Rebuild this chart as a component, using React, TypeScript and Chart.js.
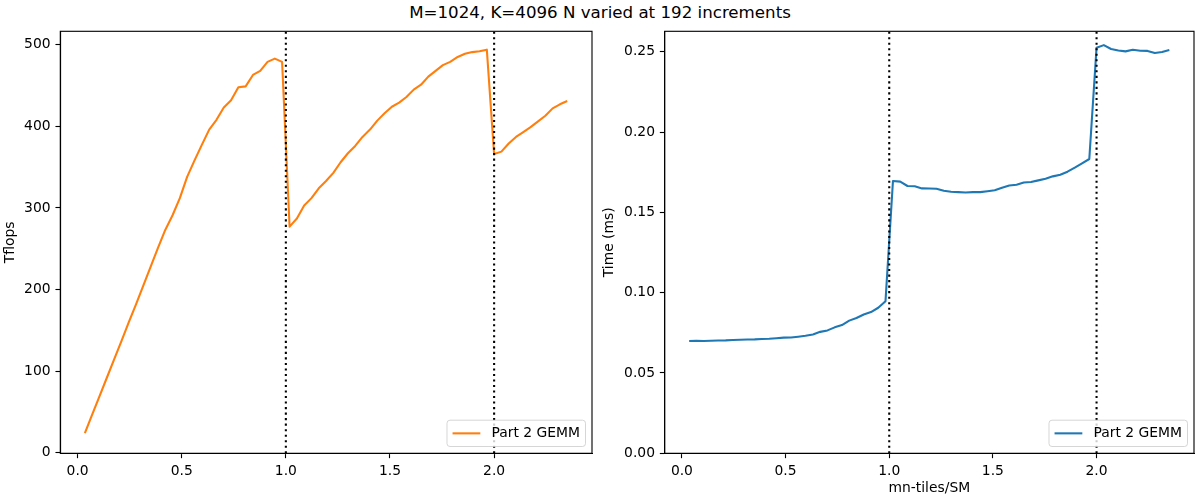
import React, { useEffect, useRef } from "react";
import { Chart, registerables } from "chart.js";

Chart.register(...registerables);

// mn-tiles per SM for each N step (N grows by 192)
const tilesPerSM = [
  0.035, 0.07, 0.105, 0.14, 0.175, 0.211, 0.246, 0.281, 0.316, 0.351,
  0.386, 0.421, 0.456, 0.491, 0.526, 0.561, 0.596, 0.632, 0.667, 0.702,
  0.737, 0.772, 0.807, 0.842, 0.877, 0.912, 0.947, 0.982, 1.018, 1.053,
  1.088, 1.123, 1.158, 1.193, 1.228, 1.263, 1.298, 1.333, 1.368, 1.404,
  1.439, 1.474, 1.509, 1.544, 1.579, 1.614, 1.649, 1.684, 1.719, 1.754,
  1.789, 1.825, 1.86, 1.895, 1.93, 1.965, 2.0, 2.035, 2.07, 2.105,
  2.14, 2.175, 2.211, 2.246, 2.281, 2.316, 2.351,
];

const tflops = [
  23.8, 46.5, 69, 91.5, 114, 137, 160, 182, 205, 228,
  251, 273, 291, 312, 338, 358, 377, 396, 408, 423,
  432, 448, 449, 463, 468, 479, 483, 479, 277, 287,
  303, 312, 324, 333, 343, 356, 367, 376, 387, 396,
  407, 416, 424, 429, 436, 445, 451, 461, 468, 475,
  479, 485, 489, 491, 492, 494, 366, 369, 379, 387,
  393, 399, 406, 413, 422, 427, 431,
];

const timeMs = [
  0.0699, 0.07, 0.0699, 0.0701, 0.0702, 0.0703, 0.0705, 0.0707, 0.0708, 0.0709,
  0.0712, 0.0713, 0.0716, 0.072, 0.0721, 0.0726, 0.0732, 0.074, 0.0756, 0.0765,
  0.0784, 0.0798, 0.0826, 0.0842, 0.0864, 0.0879, 0.0906, 0.0947, 0.1695, 0.1691,
  0.1664, 0.1662, 0.1649, 0.1648, 0.1647, 0.1635, 0.1628, 0.1626, 0.1624, 0.1626,
  0.1626, 0.1631, 0.1637, 0.1653, 0.1667, 0.1672, 0.1686, 0.1689, 0.1699, 0.1709,
  0.1724, 0.1734, 0.1753, 0.1778, 0.1805, 0.1832, 0.2525, 0.2541, 0.2517, 0.2508,
  0.2502, 0.2512, 0.2506, 0.2505, 0.2492, 0.2498, 0.251,
];

const xTicks = [0, 0.5, 1.0, 1.5, 2.0];
const tflopsTicks = [0, 100, 200, 300, 400, 500];
const timeTicks = [0, 0.05, 0.1, 0.15, 0.2, 0.25];
const waveLines = [1, 2];

const FONT = "DejaVu Sans";
const PT = 100 / 72; // matplotlib points -> px at 100 dpi
const FS = 10 * PT;

// spines, dotted wave markers and a matplotlib-like legend box
const axesDecor = {
  id: "axesDecor",
  afterDatasetsDraw(chart: any) {
    const { ctx, chartArea: a, scales } = chart;
    ctx.save();
    ctx.strokeStyle = "#000";
    ctx.lineWidth = 1.5 * PT;
    ctx.lineCap = "butt";
    ctx.setLineDash([1.5 * PT, 2.475 * PT]);
    waveLines.forEach((v) => {
      const x = scales.x.getPixelForValue(v);
      ctx.beginPath();
      ctx.moveTo(x, a.bottom);
      ctx.lineTo(x, a.top);
      ctx.stroke();
    });
    ctx.setLineDash([]);
    ctx.lineWidth = 0.8 * PT;
    ctx.strokeRect(a.left, a.top, a.right - a.left, a.bottom - a.top);

    // legend, lower right
    const ds = chart.data.datasets[0];
    ctx.font = `${FS}px "${FONT}"`;
    const tw = ctx.measureText(ds.label).width;
    const pad = 0.4 * FS;
    const w = pad + 2 * FS + 0.8 * FS + tw + pad;
    const h = 26.3;
    const right = a.right - 6.5;
    const bottom = a.bottom - 6.8;
    const left = right - w;
    const top = bottom - h;
    ctx.beginPath();
    ctx.roundRect(left, top, w, h, 3);
    ctx.fillStyle = "rgba(255,255,255,0.8)";
    ctx.fill();
    ctx.strokeStyle = "rgba(204,204,204,0.8)";
    ctx.lineWidth = 1;
    ctx.stroke();
    const cy = top + h / 2;
    ctx.beginPath();
    ctx.strokeStyle = ds.borderColor;
    ctx.lineWidth = 1.5 * PT;
    ctx.moveTo(left + pad, cy);
    ctx.lineTo(left + pad + 2 * FS, cy);
    ctx.stroke();
    ctx.fillStyle = "#000";
    ctx.textBaseline = "middle";
    ctx.textAlign = "left";
    ctx.fillText(ds.label, left + pad + 2.8 * FS, cy + 0.5);
    ctx.restore();
  },
};

const tickFont = { family: FONT, size: FS };

function makeChart(
  canvas: HTMLCanvasElement,
  values: number[],
  color: string,
  yTicks: number[],
  yMin: number,
  yMax: number,
  yDigits: number,
  yTitle: string,
  yTitlePad: number,
  xTitle: string,
  yWidth: number,
  padRight: number
) {
  return new Chart(canvas, {
    type: "line",
    data: {
      datasets: [
        {
          label: "Part 2 GEMM",
          data: tilesPerSM.map((x, i) => ({ x, y: values[i] })),
          borderColor: color,
          backgroundColor: color,
          borderWidth: 1.5 * PT,
          borderJoinStyle: "round",
          pointRadius: 0,
          tension: 0,
          fill: false,
        },
      ],
    },
    options: {
      responsive: false,
      animation: false,
      layout: { padding: { top: 31.3, right: padRight, left: 0, bottom: 0 } },
      plugins: { legend: { display: false }, tooltip: { enabled: false } },
      scales: {
        x: {
          type: "linear",
          min: -0.083,
          max: 2.47,
          afterBuildTicks: (s: any) => {
            s.ticks = xTicks.map((value) => ({ value }));
          },
          afterFit: (s: any) => {
            s.height = 46.7;
          },
          ticks: {
            callback: (v: any) => Number(v).toFixed(1),
            color: "#000",
            font: tickFont,
            padding: 3.5 * PT,
            maxRotation: 0,
            autoSkip: false,
          },
          grid: {
            drawOnChartArea: false,
            drawTicks: true,
            tickLength: 3.5 * PT,
            tickColor: "#000",
            tickWidth: 0.8 * PT,
          },
          border: { display: true, color: "#000", width: 0.8 * PT },
          title: {
            display: xTitle !== "",
            text: xTitle,
            color: "#000",
            font: tickFont,
            padding: { top: 0, bottom: 3.5 },
          },
        },
        y: {
          type: "linear",
          min: yMin,
          max: yMax,
          afterBuildTicks: (s: any) => {
            s.ticks = yTicks.map((value) => ({ value }));
          },
          afterFit: (s: any) => {
            s.width = yWidth;
          },
          ticks: {
            callback: (v: any) => Number(v).toFixed(yDigits),
            color: "#000",
            font: tickFont,
            padding: 3.5 * PT,
          },
          grid: {
            drawOnChartArea: false,
            drawTicks: true,
            tickLength: 3.5 * PT,
            tickColor: "#000",
            tickWidth: 0.8 * PT,
          },
          border: { display: true, color: "#000", width: 0.8 * PT },
          title: {
            display: true,
            text: yTitle,
            color: "#000",
            font: tickFont,
            padding: { top: yTitlePad, bottom: 0 },
          },
        },
      },
    },
    plugins: [axesDecor],
  } as any);
}

const TflopsPanel = () => {
  const ref = useRef<HTMLCanvasElement>(null);
  useEffect(() => {
    const chart = makeChart(ref.current!, tflops, "#ff7f0e", tflopsTicks, -0.8, 516.5, 0, "Tflops", 2, "", 60.3, 8);
    return () => chart.destroy();
  }, []);
  return (
    <canvas
      ref={ref}
      width={600}
      height={500}
      style={{ position: "absolute", left: 0, top: 0, width: 600, height: 500 }}
    />
  );
};

const TimePanel = () => {
  const ref = useRef<HTMLCanvasElement>(null);
  useEffect(() => {
    const chart = makeChart(ref.current!, timeMs, "#1f77b4", timeTicks, 0, 0.2627, 2, "Time (ms)", 11, "mn-tiles/SM", 74.7, 6);
    return () => chart.destroy();
  }, []);
  return (
    <canvas
      ref={ref}
      width={610}
      height={500}
      style={{ position: "absolute", left: 590, top: 0, width: 610, height: 500 }}
    />
  );
};

export default function App() {
  return (
    <div
      style={{
        position: "fixed",
        left: 0,
        top: 0,
        width: 1200,
        height: 500,
        background: "#fff",
        overflow: "hidden",
      }}
    >
      <div
        style={{
          position: "absolute",
          left: 0,
          top: 5,
          width: 1200,
          textAlign: "center",
          fontFamily: FONT,
          fontSize: 12 * PT,
          lineHeight: `${12 * PT}px`,
          color: "#000",
        }}
      >
        M=1024, K=4096 N varied at 192 increments
      </div>
      <TflopsPanel />
      <TimePanel />
    </div>
  );
}
